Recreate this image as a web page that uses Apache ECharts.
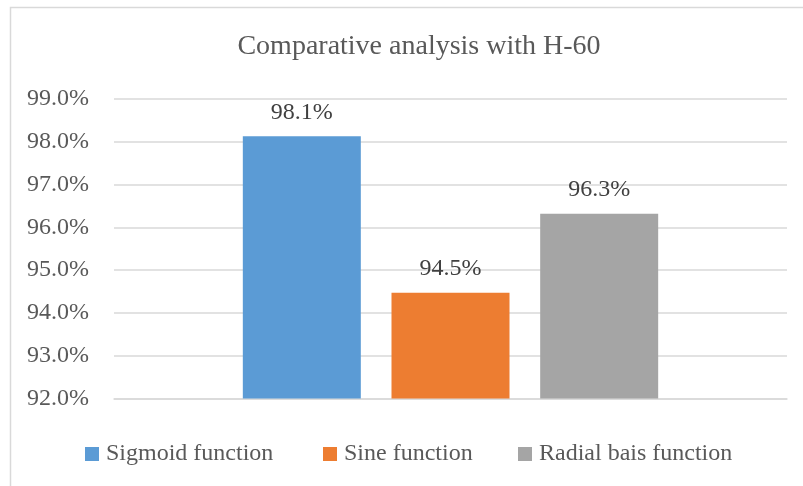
<!DOCTYPE html>
<html>
<head>
<meta charset="utf-8">
<script src="https://cdn.jsdelivr.net/npm/echarts@6/dist/echarts.min.js"></script>
<style>html,body{margin:0;padding:0;background:#fff}#c{width:803px;height:486px}</style>
</head>
<body>
<div id="c"></div>
<script>
const titleText = 'Comparative analysis with H-60';
const categories = ['H-60'];
const seriesNames = ['Sigmoid function', 'Sine function', 'Radial bais function'];
const seriesValues = [98.13, 94.47, 96.32];
const seriesColors = ['#5B9BD5', '#ED7D31', '#A5A5A5'];
const yMin = 92, yMax = 99, yStep = 1;

const FONT = 'Liberation Serif';
const TXT = '#595959';
const legendLefts = [85, 323, 518];
const chart = echarts.init(document.getElementById('c'), null, {renderer: 'canvas'});
chart.setOption({
  animation: false,
  backgroundColor: '#fff',
  graphic: [{
    type: 'rect', shape: {x: 10.5, y: 7.5, width: 830, height: 520},
    style: {fill: 'none', stroke: '#d9d9d9', lineWidth: 1.5}, silent: true, z: -1
  }],
  title: {
    text: titleText, left: 414, top: 28, textAlign: 'center',
    textStyle: {fontFamily: FONT, fontWeight: 'normal', fontSize: 28, color: TXT}
  },
  legend: seriesNames.map((n, i) => ({
    left: legendLefts[i], top: 442, padding: 0, itemWidth: 14, itemHeight: 14,
    icon: 'rect', selectedMode: false,
    textStyle: {fontFamily: FONT, fontSize: 24, color: TXT, padding: [0, 0, 0, 2]},
    data: [n]
  })),
  grid: {left: 114, right: 16, top: 99, bottom: 87.5, containLabel: false},
  xAxis: {
    type: 'category', data: categories,
    axisLine: {lineStyle: {color: '#d9d9d9', width: 1.5}},
    axisTick: {show: false}, axisLabel: {show: false}
  },
  yAxis: {
    type: 'value', min: yMin, max: yMax, interval: yStep,
    axisLine: {show: false}, axisTick: {show: false},
    splitLine: {lineStyle: {color: '#d9d9d9', width: 1.5}},
    axisLabel: {
      formatter: v => v.toFixed(1) + '%', margin: 25,
      fontFamily: FONT, fontSize: 24, color: TXT
    }
  },
  series: seriesNames.map((n, i) => ({
    name: n, type: 'bar', barWidth: 118, barGap: '26%',
    itemStyle: {color: seriesColors[i]},
    label: {
      show: true, position: 'top', distance: 12,
      formatter: p => p.value.toFixed(1) + '%',
      fontFamily: FONT, fontSize: 24, color: '#404040'
    },
    data: [seriesValues[i]]
  }))
});
</script>
</body>
</html>
